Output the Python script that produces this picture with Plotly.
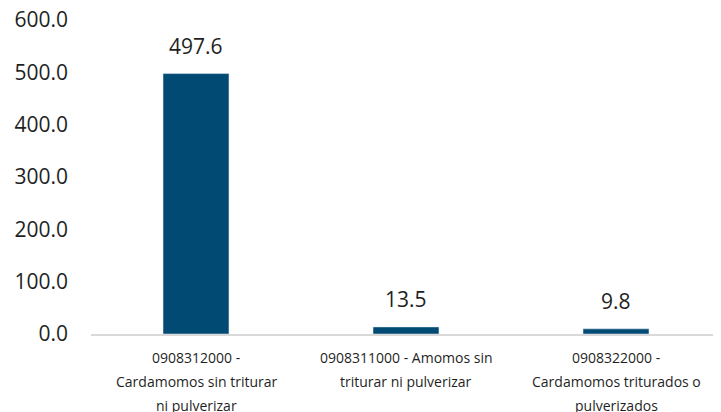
import plotly.graph_objects as go

categories = [
    "0908312000 - Cardamomos sin triturar ni pulverizar",
    "0908311000 - Amomos sin triturar ni pulverizar",
    "0908322000 - Cardamomos triturados o pulverizados",
]
category_lines = [
    ["0908312000 -", "Cardamomos sin triturar", "ni pulverizar"],
    ["0908311000 - Amomos sin", "triturar ni pulverizar"],
    ["0908322000 -", "Cardamomos triturados o", "pulverizados"],
]
values = [497.6, 13.5, 9.8]
labels = ["497.6", "13.5", "9.8"]
y_ticks = [0, 100, 200, 300, 400, 500, 600]

FONT = "Open Sans"
TXT = "#1f1f1f"

fig = go.Figure(go.Bar(
    x=categories, y=values, marker_color="#004A73", width=0.314,
    hoverinfo="skip",
))
for c, v, t in zip(categories, values, labels):
    fig.add_annotation(x=c, y=v, text=t, showarrow=False, yanchor="bottom",
                       yshift=12, font=dict(family=FONT, size=21, color=TXT))
for c, lines in zip(categories, category_lines):
    for i, ln in enumerate(lines):
        fig.add_annotation(x=c, xref="x", y=0, yref="paper", text=ln,
                           showarrow=False, yanchor="middle",
                           yshift=-(23 + 24 * i),
                           font=dict(family=FONT, size=14, color=TXT))

fig.update_layout(
    width=721, height=412,
    margin=dict(l=83, r=8, t=12, b=86),
    plot_bgcolor="white", paper_bgcolor="white",
    showlegend=False,
)
fig.update_yaxes(range=[0, 600], tickvals=y_ticks, tickformat=".1f",
                 showgrid=False, zeroline=False, showline=False,
                 ticks="", ticklabelstandoff=22, automargin=False,
                 ticklabeloverflow="allow",
                 tickfont=dict(family=FONT, size=21, color=TXT))
fig.update_xaxes(type="category", showline=True, linecolor="#d9d9d9",
                 linewidth=1.5, showgrid=False, ticks="",
                 showticklabels=False, automargin=False)
fig.write_html("out.html")
